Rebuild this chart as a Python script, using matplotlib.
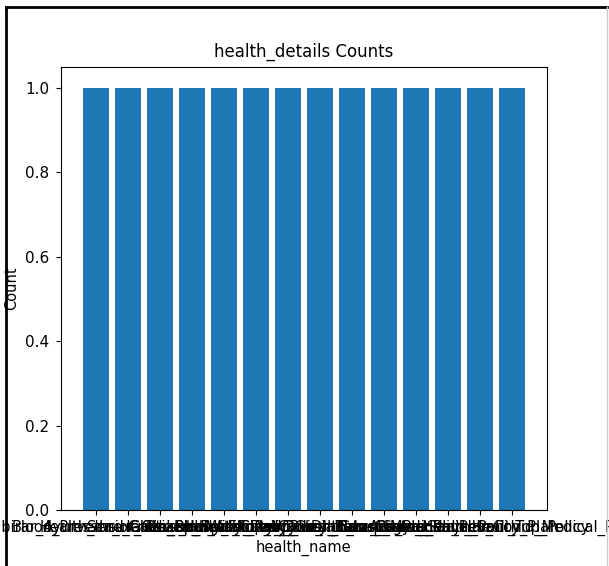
import matplotlib
matplotlib.use('Agg')
from matplotlib import pyplot as plt
from matplotlib.lines import Line2D

health_names = [
    "Kabirar_Ayurveda_Health_Plan",
    "Blood_Pressure_Checkup_Policy",
    "Health_Insurance_Family_Floater",
    "Senior_Citizen_Health_Policy",
    "Critical_Illness_Cover_Plan",
    "Personal_Accident_Policy_Plus",
    "Hospital_Daily_Cash_Benefit",
    "Maternity_Care_Insurance_Plan",
    "Top_Up_Health_Insurance_Plan",
    "Cancer_Care_Protection_Plan",
    "Diabetes_Safe_Health_Policy",
    "Group_Mediclaim_Health_Plan",
    "Arogya_Sanjeevani_Top_Policy",
    "Corona_Kavach_Covid_Medical_Reimb",
]
counts = [1, 1, 1, 1, 1, 1, 1, 1, 1, 1, 1, 1, 1, 1]

fig = plt.figure(figsize=(6.09, 5.66), dpi=100)
ax = fig.add_axes([0.100, 0.099, 0.798, 0.783])

ax.bar(health_names, counts, color='#1f77b4')
ax.set_title('health_details Counts', fontsize=12, pad=7)
ax.set_xlabel('health_name', fontsize=10.5, labelpad=3)
ax.set_ylabel('Count', fontsize=10.5)
ax.tick_params(axis='y', labelsize=11, pad=5)
ax.tick_params(axis='x', labelsize=10.5)

# screenshot frame
fig.add_artist(Line2D([0.010, 0.010], [0, 0.987], transform=fig.transFigure,
                      color='black', linewidth=2))
fig.add_artist(Line2D([0.010, 0.997], [0.987, 0.987], transform=fig.transFigure,
                      color='black', linewidth=2))
fig.add_artist(Line2D([0.997, 0.997], [0, 0.987], transform=fig.transFigure,
                      color='#cccccc', linewidth=1))

fig.savefig('out.png', dpi=100)
